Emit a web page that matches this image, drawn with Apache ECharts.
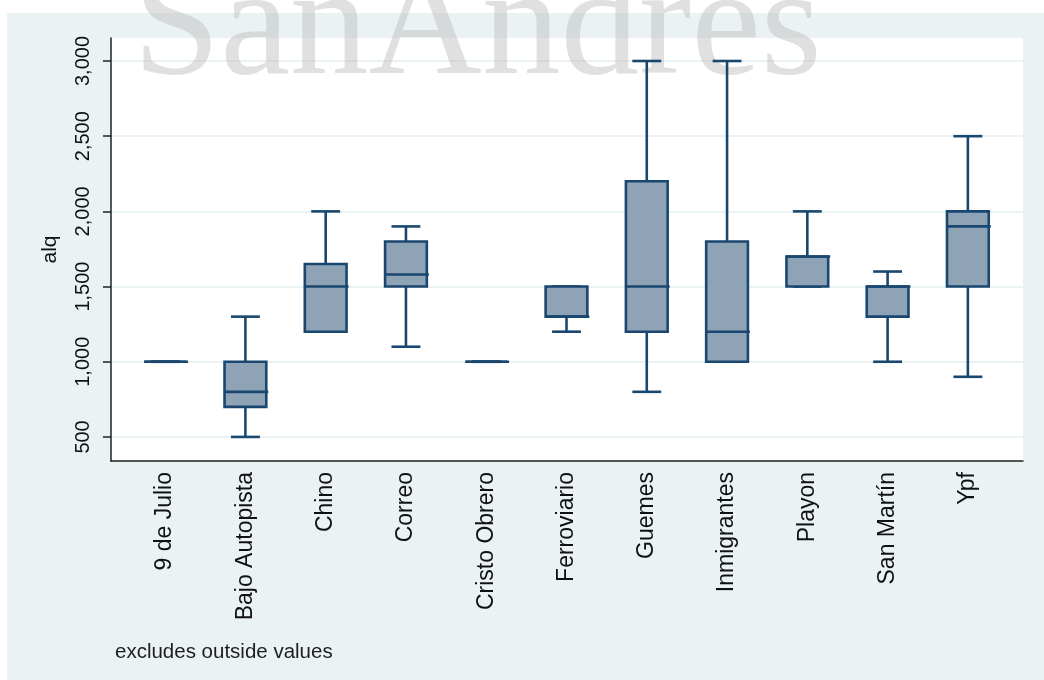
<!DOCTYPE html>
<html>
<head>
<meta charset="utf-8">
<script src="https://cdn.jsdelivr.net/npm/echarts@6/dist/echarts.min.js"></script>
<style>
  html, body { margin: 0; padding: 0; background: #ffffff; }
  #chart { width: 1044px; height: 680px; }
</style>
</head>
<body>
<div id="chart"></div>
<script>
// Rent (alq) by neighbourhood: box plot summaries
const categories = ['9 de Julio', 'Bajo Autopista', 'Chino', 'Correo', 'Cristo Obrero',
  'Ferroviario', 'Guemes', 'Inmigrantes', 'Playon', 'San Martín', 'Ypf'];
const whiskerLow  = [1000,  500, 1200, 1100, 1000, 1200,  800, 1000, 1500, 1000,  900];
const quartile1   = [1000,  700, 1200, 1500, 1000, 1300, 1200, 1000, 1500, 1300, 1500];
const medians     = [1000,  800, 1500, 1580, 1000, 1300, 1500, 1200, 1700, 1500, 1900];
const quartile3   = [1000, 1000, 1650, 1800, 1000, 1500, 2200, 1800, 1700, 1500, 2000];
const whiskerHigh = [1000, 1300, 2000, 1900, 1000, 1500, 3000, 3000, 2000, 1600, 2500];
const yTicks = [500, 1000, 1500, 2000, 2500, 3000];

const NAVY = '#1a476f';
const FILL = '#8fa3b6';
const PANEL = '#eaf2f3';
const FONT = 'Liberation Sans, Arial, sans-serif';

const boxData = categories.map((c, i) =>
  [i, whiskerLow[i], quartile1[i], medians[i], quartile3[i], whiskerHigh[i]]);

function renderBox(params, api) {
  const i = api.value(0);
  const band = api.size([1, 0])[0];
  const boxW = band * 0.52;
  const capW = band * 0.36;
  const lo = api.coord([i, api.value(1)]);
  const q1 = api.coord([i, api.value(2)]);
  const md = api.coord([i, api.value(3)]);
  const q3 = api.coord([i, api.value(4)]);
  const hi = api.coord([i, api.value(5)]);
  const cx = lo[0];
  const stroke = { stroke: NAVY, lineWidth: 2.6, fill: null };
  return {
    type: 'group',
    children: [
      { type: 'line', shape: { x1: cx, y1: hi[1], x2: cx, y2: q3[1] }, style: stroke },
      { type: 'line', shape: { x1: cx, y1: q1[1], x2: cx, y2: lo[1] }, style: stroke },
      { type: 'line', shape: { x1: cx - capW / 2, y1: hi[1], x2: cx + capW / 2, y2: hi[1] }, style: stroke },
      { type: 'line', shape: { x1: cx - capW / 2, y1: lo[1], x2: cx + capW / 2, y2: lo[1] }, style: stroke },
      { type: 'rect', shape: { x: cx - boxW / 2, y: q3[1], width: boxW, height: q1[1] - q3[1] },
        style: { fill: FILL, stroke: NAVY, lineWidth: 2.6 } },
      { type: 'line', shape: { x1: cx - boxW / 2, y1: md[1], x2: cx + boxW / 2 + 2, y2: md[1] }, style: stroke }
    ]
  };
}

const chart = echarts.init(document.getElementById('chart'), null, { renderer: 'canvas' });
chart.setOption({
  animation: false,
  backgroundColor: '#ffffff',
  graphic: [
    { type: 'rect', z: -10, shape: { x: 7, y: 13, width: 1037, height: 667 }, style: { fill: PANEL } },
    { type: 'text', z: 1, silent: true, left: 133, top: -47,
      style: { text: 'SanAndrés', font: '157px "Liberation Serif", serif', fill: 'rgba(190,190,190,0.48)' } },
    { type: 'text', z: 5, left: 115, top: 642,
      style: { text: 'excludes outside values', font: '20.5px ' + FONT, fill: '#1e1e1e' } }
  ],
  grid: [
    { left: 111, top: 38, width: 912, height: 423, show: true, backgroundColor: '#ffffff', borderWidth: 0, containLabel: false },
    { left: 125, top: 38, width: 883, height: 423, containLabel: false }
  ],
  xAxis: [
    { type: 'value', gridIndex: 0, min: 0, max: 1,
      axisLine: { show: true, lineStyle: { color: '#222', width: 1.5 } },
      axisTick: { show: false }, axisLabel: { show: false }, splitLine: { show: false } },
    { type: 'category', gridIndex: 1, data: categories, boundaryGap: true,
      axisLine: { show: false }, axisTick: { show: false }, splitLine: { show: false },
      axisLabel: { interval: 0, rotate: 90, margin: 11, fontSize: 23, fontFamily: FONT, color: '#111' } }
  ],
  yAxis: [
    { type: 'value', gridIndex: 0, min: 340, max: 3153,
      name: 'alq', nameLocation: 'middle', nameGap: 50,
      nameTextStyle: { fontSize: 21, fontFamily: FONT, color: '#111' },
      axisLine: { show: true, lineStyle: { color: '#222', width: 1.5 } },
      axisTick: { show: true, length: 8, customValues: yTicks, lineStyle: { color: '#222', width: 1.5 } },
      axisLabel: { customValues: yTicks, rotate: 90, margin: 18, fontSize: 20, fontFamily: FONT, color: '#111',
        align: 'center', verticalAlign: 'bottom',
        formatter: v => Number(v).toLocaleString('en-US') },
      splitLine: { show: true, lineStyle: { color: PANEL, width: 2 } } },
    { type: 'value', gridIndex: 1, min: 340, max: 3153, show: false, splitLine: { show: false } }
  ],
  series: [
    { type: 'custom', xAxisIndex: 1, yAxisIndex: 1, z: 3,
      encode: { x: 0, y: [1, 2, 3, 4, 5] },
      renderItem: renderBox, data: boxData }
  ]
});
</script>
</body>
</html>
